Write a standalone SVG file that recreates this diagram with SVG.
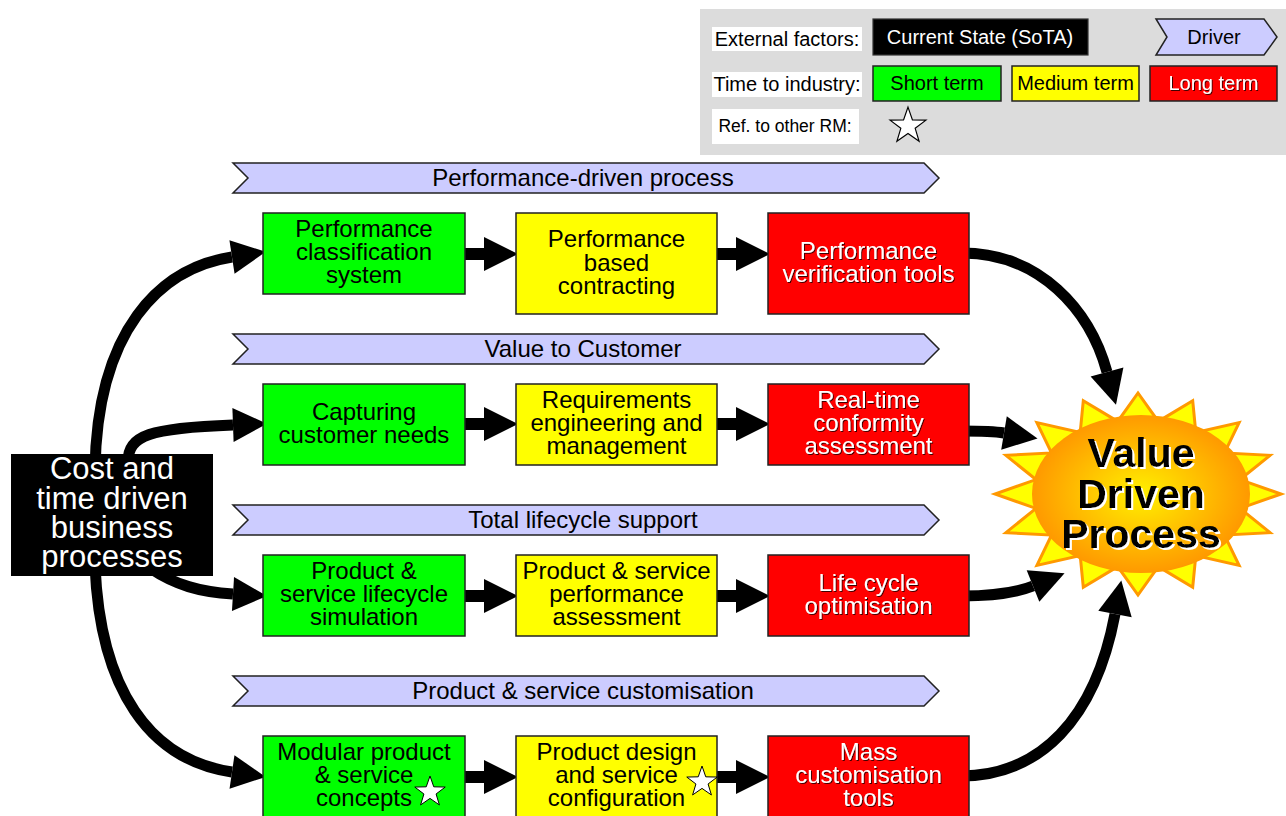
<svg xmlns="http://www.w3.org/2000/svg" width="1286" height="816" viewBox="0 0 1286 816">
<style>
text{font-family:"Liberation Sans",Arial,sans-serif;text-anchor:middle}
.box{stroke:#222;stroke-width:1.5}
.g{fill:#00ff00}.y{fill:#ffff00}.r{fill:#ff0000}
.drv{fill:#ccccff;stroke:#222;stroke-width:1.5}
.t{font-size:24px;fill:#000}
.tw{font-size:24px;fill:#fff;filter:url(#sh)}
.dt{font-size:24px;fill:#000}
.lg{font-size:20px;fill:#000}
.lbl{fill:#fff}
.con{fill:none;stroke:#000;stroke-width:11}
.str{fill:none;stroke:#000;stroke-width:12}
.star{fill:#fff;stroke:#000;stroke-width:1}
</style>
<defs>
<marker id="ah" markerUnits="userSpaceOnUse" markerWidth="34" markerHeight="34" viewBox="0 0 32 32" refX="0" refY="16" orient="auto" overflow="visible">
<path d="M0,0 L32,16 L0,32 z" fill="#000"/>
</marker>
<filter id="sh" x="-10%" y="-10%" width="120%" height="130%">
<feDropShadow dx="1" dy="1" stdDeviation="0.5" flood-color="#000" flood-opacity="0.75"/>
</filter>
<filter id="wsh" x="-10%" y="-10%" width="120%" height="130%">
<feDropShadow dx="2" dy="2" stdDeviation="0" flood-color="#fff" flood-opacity="1"/>
</filter>
<radialGradient id="sun" cx="50%" cy="50%" r="50%">
<stop offset="0" stop-color="#fff000"/>
<stop offset="0.55" stop-color="#ffc000"/>
<stop offset="1" stop-color="#ff9900"/>
</radialGradient>
<polygon id="st" points="0,-16 3.76,-5.18 15.22,-4.94 6.09,1.98 9.4,12.94 0,6.4 -9.4,12.94 -6.09,1.98 -15.22,-4.94 -3.76,-5.18"/>
</defs>
<rect width="1286" height="816" fill="#fff"/>

<g id="legend">
<rect x="700" y="9" width="586" height="146" fill="#dcdcdc"/>
<rect x="712" y="27" width="150" height="24" fill="#fff"/>
<text class="lg" x="787" y="46">External factors:</text>
<rect x="873" y="19" width="215" height="36" fill="#000" stroke="#333" stroke-width="1.2"/>
<text class="lg lbl" x="980" y="44">Current State (SoTA)</text>
<polygon class="drv" points="1156,19 1264,19 1277,37 1264,55 1156,55 1167,37"/>
<text class="lg" x="1214" y="44">Driver</text>
<rect x="712" y="72" width="150" height="25" fill="#fff"/>
<text class="lg" x="787" y="91">Time to industry:</text>
<rect class="box g" x="873" y="66" width="128" height="35"/>
<text class="lg" x="937" y="90">Short term</text>
<rect class="box y" x="1012" y="66" width="127" height="35"/>
<text class="lg" x="1075.5" y="90">Medium term</text>
<rect class="box r" x="1150" y="66" width="127" height="35"/>
<text class="lg" x="1213.5" y="90" fill="#fff" style="fill:#fff;filter:url(#sh)">Long term</text>
<rect x="712" y="109" width="147" height="35" fill="#fff"/>
<text x="785" y="132" style="font-size:17.5px">Ref. to other RM:</text>
<use href="#st" class="star" transform="translate(908,126) scale(1.18)"/>
</g>

<g id="drivers">
<g id="drv1"><polygon class="drv" points="233,163 924,163 939,178 924,193 233,193 248,178"/><text class="dt" x="583" y="186">Performance-driven process</text></g>
<g id="drv2"><polygon class="drv" points="233,334 924,334 939,349 924,364 233,364 248,349"/><text class="dt" x="583" y="357">Value to Customer</text></g>
<g id="drv3"><polygon class="drv" points="233,505 924,505 939,520 924,535 233,535 248,520"/><text class="dt" x="583" y="528">Total lifecycle support</text></g>
<g id="drv4"><polygon class="drv" points="233,676 924,676 939,691 924,706 233,706 248,691"/><text class="dt" x="583" y="699">Product &amp; service customisation</text></g>
</g>

<g id="connectors">
<path class="con" marker-end="url(#ah)" d="M95,470 C97,330 160,268 232,257"/>
<path class="con" marker-end="url(#ah)" d="M128,462 C128,435 150,428 233,425"/>
<path class="con" marker-end="url(#ah)" d="M150,568 C175,585 200,592 233,594"/>
<path class="con" marker-end="url(#ah)" d="M95,565 C100,690 150,760 232,772"/>
<path class="str" marker-end="url(#ah)" d="M465,254 L484,254"/>
<path class="str" marker-end="url(#ah)" d="M717,254 L736,254"/>
<path class="str" marker-end="url(#ah)" d="M465,424 L484,424"/>
<path class="str" marker-end="url(#ah)" d="M717,424 L736,424"/>
<path class="str" marker-end="url(#ah)" d="M465,596 L484,596"/>
<path class="str" marker-end="url(#ah)" d="M717,596 L736,596"/>
<path class="str" marker-end="url(#ah)" d="M465,777 L484,777"/>
<path class="str" marker-end="url(#ah)" d="M717,777 L736,777"/>
<path class="con" marker-end="url(#ah)" d="M962,253 C1040,253 1090,310 1107,372"/>
<path class="con" marker-end="url(#ah)" d="M962,431 C980,431 992,431 1004,433"/>
<path class="con" marker-end="url(#ah)" d="M962,596 C988,596 1013,594 1033,586"/>
<path class="con" marker-end="url(#ah)" d="M962,776 C1040,775 1095,720 1115,614"/>
</g>

<g id="source">
<rect x="11" y="454" width="202" height="122" fill="#000"/>
<text x="112" style="font-size:31px;fill:#fff"><tspan x="112" y="479">Cost and</tspan><tspan x="112" y="509">time driven</tspan><tspan x="112" y="538">business</tspan><tspan x="112" y="567">processes</tspan></text>
</g>

<g id="n-g1"><rect class="box g" x="263" y="213" width="202" height="81"/><text class="t"><tspan x="364" y="237">Performance</tspan><tspan x="364" y="260">classification</tspan><tspan x="364" y="283">system</tspan></text></g>
<g id="n-y1"><rect class="box y" x="516" y="213" width="201" height="101"/><text class="t"><tspan x="616.5" y="247">Performance</tspan><tspan x="616.5" y="271">based</tspan><tspan x="616.5" y="294">contracting</tspan></text></g>
<g id="n-r1"><rect class="box r" x="768" y="213" width="201" height="101"/><text class="tw"><tspan x="868.5" y="259">Performance</tspan><tspan x="868.5" y="282">verification tools</tspan></text></g>

<g id="n-g2"><rect class="box g" x="263" y="384" width="202" height="81"/><text class="t"><tspan x="364" y="420">Capturing</tspan><tspan x="364" y="443">customer needs</tspan></text></g>
<g id="n-y2"><rect class="box y" x="516" y="384" width="201" height="81"/><text class="t"><tspan x="616.5" y="408">Requirements</tspan><tspan x="616.5" y="431">engineering and</tspan><tspan x="616.5" y="454">management</tspan></text></g>
<g id="n-r2"><rect class="box r" x="768" y="384" width="201" height="81"/><text class="tw"><tspan x="868.5" y="408">Real-time</tspan><tspan x="868.5" y="431">conformity</tspan><tspan x="868.5" y="454">assessment</tspan></text></g>

<g id="n-g3"><rect class="box g" x="263" y="555" width="202" height="81"/><text class="t"><tspan x="364" y="579">Product &amp;</tspan><tspan x="364" y="602">service lifecycle</tspan><tspan x="364" y="625">simulation</tspan></text></g>
<g id="n-y3"><rect class="box y" x="516" y="555" width="201" height="81"/><text class="t"><tspan x="616.5" y="579">Product &amp; service</tspan><tspan x="616.5" y="602">performance</tspan><tspan x="616.5" y="625">assessment</tspan></text></g>
<g id="n-r3"><rect class="box r" x="768" y="555" width="201" height="81"/><text class="tw"><tspan x="868.5" y="591">Life cycle</tspan><tspan x="868.5" y="614">optimisation</tspan></text></g>

<g id="n-g4"><rect class="box g" x="263" y="736" width="202" height="90"/><text class="t"><tspan x="364" y="760">Modular product</tspan><tspan x="364" y="783">&amp; service</tspan><tspan x="364" y="806">concepts</tspan></text><use href="#st" class="star" x="430" y="792"/></g>
<g id="n-y4"><rect class="box y" x="516" y="736" width="201" height="90"/><text class="t"><tspan x="616.5" y="760">Product design</tspan><tspan x="616.5" y="783">and service</tspan><tspan x="616.5" y="806">configuration</tspan></text><use href="#st" class="star" x="702" y="782"/></g>
<g id="n-r4"><rect class="box r" x="768" y="736" width="201" height="90"/><text class="tw"><tspan x="868.5" y="760">Mass</tspan><tspan x="868.5" y="783">customisation</tspan><tspan x="868.5" y="806">tools</tspan></text></g>

<g id="target">
<polygon fill="#ffff00" stroke="#ff9900" stroke-width="3" stroke-linejoin="miter" points="1281,494 1240,508.4 1270.1,532.7 1224.5,535.1 1239.1,565.4 1195.8,555.5 1192.7,587.3 1158.3,566.6 1138,595 1117.7,566.6 1083.3,587.3 1080.2,555.5 1036.9,565.4 1051.5,535.1 1005.9,532.7 1036,508.4 995,494 1036,479.6 1005.9,455.3 1051.5,452.9 1036.9,422.6 1080.2,432.5 1083.3,400.7 1117.7,421.4 1138,393 1158.3,421.4 1192.7,400.7 1195.8,432.5 1239.1,422.6 1224.5,452.9 1270.1,455.3 1240,479.6"/>
<ellipse cx="1141" cy="494" rx="109" ry="79" fill="url(#sun)"/>
<text style="font-size:41px;font-weight:bold;fill:#000;filter:url(#wsh)"><tspan x="1141" y="467">Value</tspan><tspan x="1141" y="508">Driven</tspan><tspan x="1141" y="548">Process</tspan></text>
</g>
</svg>
